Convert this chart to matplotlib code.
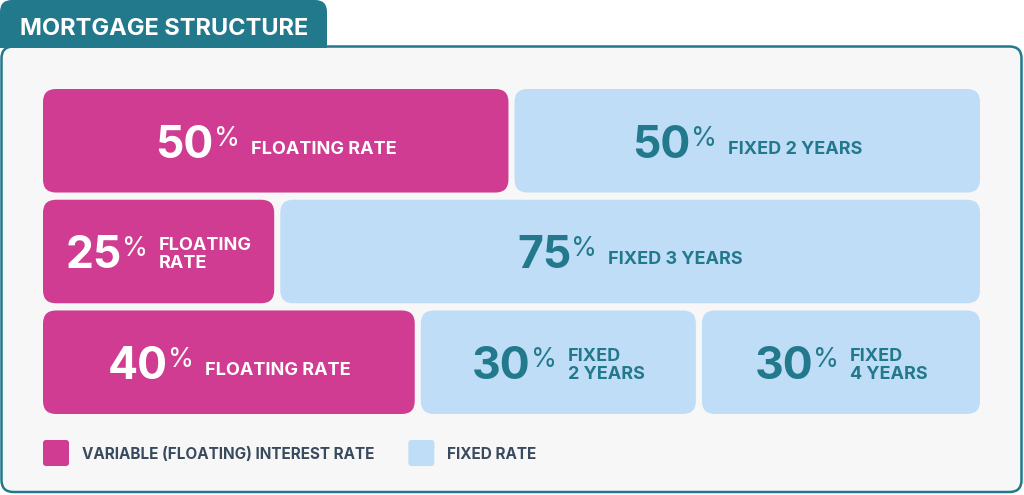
import matplotlib.pyplot as plt
from matplotlib.patches import FancyBboxPatch, Rectangle

plt.rcParams['font.family'] = ['Inter', 'DejaVu Sans']

title = 'MORTGAGE STRUCTURE'
# each row of the chart: shares in percent, left to right
row_shares = [[50, 50], [25, 75], [40, 30, 30]]
row_kinds = [['floating', 'fixed'], ['floating', 'fixed'], ['floating', 'fixed', 'fixed']]
row_labels = [['FLOATING RATE', 'FIXED 2 YEARS'],
              ['FLOATING\nRATE', 'FIXED 3 YEARS'],
              ['FLOATING RATE', 'FIXED\n2 YEARS', 'FIXED\n4 YEARS']]
legend_kinds = ['floating', 'fixed']
legend_labels = ['VARIABLE (FLOATING) INTEREST RATE', 'FIXED RATE']

TEAL = '#22798c'
PINK = '#cf3c91'
BLUE = '#bfddf7'
PANEL = '#f7f7f7'
DARK = '#3a4a5e'
fill = {'floating': PINK, 'fixed': BLUE}
ink = {'floating': 'white', 'fixed': TEAL}

W, H = 1024, 495
fig = plt.figure(figsize=(W / 100, H / 100), dpi=100)

# frame (panel + title tab) in pixel coordinates
bg = fig.add_axes([0, 0, 1, 1])
bg.set_xlim(0, W)
bg.set_ylim(H, 0)
bg.axis('off')
bg.add_patch(FancyBboxPatch((1.5, 46.5), 1020, 445.5, boxstyle='round,pad=0,rounding_size=12',
                            fc=PANEL, ec=TEAL, lw=1.8))
bg.add_patch(FancyBboxPatch((0, 0), 327, 40, boxstyle='round,pad=0,rounding_size=12',
                            fc=TEAL, ec='none'))
bg.add_patch(Rectangle((0, 20), 327, 27.5, fc=TEAL, ec='none'))
bg.text(20, 35, title, color='white', fontsize=17, fontweight='bold', va='baseline')

# bars
left, right, top, bottom = 43, 980, 89, 414
ax = fig.add_axes([left / W, 1 - bottom / H, (right - left) / W, (bottom - top) / H])
n_rows = len(row_shares)
bh = 0.935
gap = 0.65
ax.set_xlim(0, 100)
ax.set_ylim(-bh / 2, n_rows - 1 + bh / 2)
ax.axis('off')
px_x = (right - left) / 100
px_y = (bottom - top) / (n_rows - 1 + bh)

groups = []
for i, (shares, kinds, labels) in enumerate(zip(row_shares, row_kinds, row_labels)):
    y = n_rows - 1 - i
    cum = 0
    for j, (s, k, lab) in enumerate(zip(shares, kinds, labels)):
        x0 = cum + (gap / 2 if j > 0 else 0)
        x1 = cum + s - (gap / 2 if j < len(shares) - 1 else 0)
        cum += s
        ax.add_patch(FancyBboxPatch((x0, y - bh / 2), x1 - x0, bh,
                                    boxstyle='round,pad=0,rounding_size=%f' % (13 / px_x),
                                    mutation_aspect=px_x / px_y, fc=fill[k], ec='none'))
        xc = (x0 + x1) / 2
        c = ink[k]
        two = '\n' in lab
        t_num = ax.annotate(str(s), (xc, y), xytext=(0, -17), textcoords='offset pixels',
                            ha='left', va='baseline', fontsize=32, fontweight='bold', color=c)
        t_pct = ax.annotate('%', (xc, y), xytext=(0, -5), textcoords='offset pixels',
                            ha='left', va='baseline', fontsize=19, color=c)
        t_lab = ax.annotate(lab, (xc, y), xytext=(0, -17 if two else -13), textcoords='offset pixels',
                            ha='left', va='baseline', fontsize=13, fontweight='bold', color=c,
                            linespacing=1.1)
        groups.append((t_num, t_pct, t_lab))

# legend
leg_items = []
for k, lab in zip(legend_kinds, legend_labels):
    sq = FancyBboxPatch((0, 440), 26, 26, boxstyle='round,pad=0,rounding_size=3', fc=fill[k], ec='none')
    bg.add_patch(sq)
    t = bg.text(0, 459, lab, color=DARK, fontsize=11, fontweight='bold', va='baseline')
    leg_items.append((sq, t))

# centre the number/label groups inside their boxes and lay out the legend
fig.canvas.draw()
r = fig.canvas.get_renderer()
sep1, sep2 = 0, 11
for t_num, t_pct, t_lab in groups:
    wn = t_num.get_window_extent(r).width
    wp = t_pct.get_window_extent(r).width
    wl = t_lab.get_window_extent(r).width
    total = wn + sep1 + wp + sep2 + wl
    x = -total / 2
    t_num.xyann = (x, t_num.xyann[1])
    t_pct.xyann = (x + wn + sep1, t_pct.xyann[1])
    t_lab.xyann = (x + wn + sep1 + wp + sep2, t_lab.xyann[1])

x = 43
for sq, t in leg_items:
    sq.set_x(x)
    t.set_x(x + 39)
    x = x + 39 + t.get_window_extent(r).width + 34

fig.savefig('out.png', dpi=100)
